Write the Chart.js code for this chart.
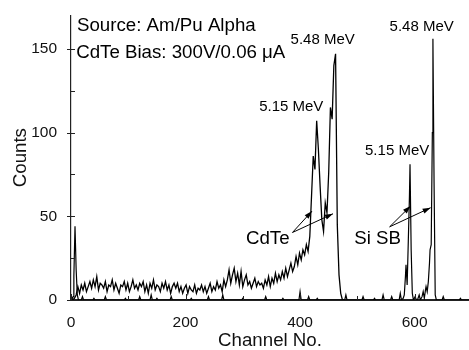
<!DOCTYPE html>
<html><head><meta charset="utf-8">
<script src="https://cdn.jsdelivr.net/npm/chart.js@4"></script>
<style>html,body{margin:0;padding:0;background:#fff}#wrap{width:469px;height:350px}</style>
</head><body><div id="wrap"><canvas id="c" width="469" height="350"></canvas></div>
<script>
// ---- data ----
const cdteStartChannel = 0;
const cdteChannelStep = 3;
const cdteCounts = [
  2, 0, 1, 3,
  8, 4, 9, 6, 10, 5, 8, 11, 7, 12, 8, 14, 6, 10, 9, 7, 11,
  5, 9, 8, 12, 6, 10, 7, 4, 9, 8, 11, 6, 10, 5, 8, 12, 7, 9, 6, 10,
  8, 11, 5, 9, 4, 10, 7, 12, 6, 9, 8, 5, 10, 7, 11, 6, 9, 4, 8, 10,
  7, 10, 5, 8, 4, 7, 9, 4, 8, 6, 5, 9, 4, 7, 6, 9, 5, 8, 4, 7,
  10, 5, 8, 6, 11, 7, 9, 5, 12, 8,
  12, 18, 10, 15, 19, 11, 16, 9, 17, 8,
  12, 15, 9, 11, 7, 10, 13, 8, 11, 9,
  10, 7, 12, 9, 14, 8, 13, 10, 16, 11,
  15, 12, 17, 13, 19, 14, 18, 22, 17, 20,
  26, 21, 28, 24, 30, 27, 33, 29, 38, 62,
  86, 78, 107, 90, 68, 48, 41, 58, 52, 76, 115, 108, 140, 147, 45, 15, 4, 0, 0
];
const siChannels = [
  0, 2, 4, 5, 7, 9, 11, 13,
  18, 20, 22, 38, 40, 42, 58, 60, 62, 93, 95, 97, 118, 120, 122,
  138, 140, 142, 148, 150, 152, 173, 175, 177, 208, 210, 212,
  238, 240, 242, 263, 265, 267, 298, 300, 302, 338, 340, 342,
  368, 370, 372, 398, 400, 402, 413, 415, 417, 428, 430, 432,
  478, 480, 482, 508, 510, 512, 528, 530, 532, 543, 545, 547,
  558, 560, 562, 573, 575, 577,
  580, 582, 584, 585, 587, 589, 591, 592, 594, 596, 598,
  601, 603, 605, 608, 610, 613, 615, 617, 619, 620, 622, 624, 626, 627, 629, 631, 632, 634, 636, 638,
  648, 650, 652, 678, 680, 682, 695
];
const siCounts = [
  3, 1, 2, 14, 44, 18, 3, 0,
  0, 2, 0, 0, 1, 0, 0, 2, 0, 0, 1, 0, 0, 2, 0,
  0, 3, 0, 0, 1, 0, 0, 2, 0, 0, 1, 0,
  0, 2, 0, 0, 3, 0, 0, 1, 0, 0, 2, 0,
  0, 1, 0, 0, 5, 0, 0, 2, 0, 0, 1, 0,
  0, 3, 0, 0, 2, 0, 0, 1, 0, 0, 3, 0,
  0, 2, 0, 0, 4, 0,
  1, 3, 14, 21, 9, 35, 62, 81, 30, 4, 0,
  2, 0, 0, 3, 0, 2, 5, 1, 6, 8, 5, 11, 22, 30, 33, 100, 156, 70, 3, 0,
  0, 2, 0, 0, 1, 0, 0
];
const xTickValues = [0, 200, 400, 600];
const xMinorTickValues = [100, 300, 500];
const yTickValues = [0, 50, 100, 150];
const yMinorTickValues = [25, 75, 125];

const infoLines = ['Source: Am/Pu Alpha', 'CdTe Bias: 300V/0.06 \u03bcA'];
const infoChannels = [10.5, 9];
const infoCounts = [163.5, 147.6];

const peakLabels = ['5.48 MeV', '5.15 MeV', '5.15 MeV', '5.48 MeV'];
const peakLabelChannels = [439.5, 384.6, 569.5, 612.3];
const peakLabelCounts = [155.3, 115.1, 89.1, 162.9];

const detectorLabels = ['CdTe', 'Si SB'];
const detectorLabelChannels = [343.6, 535.5];
const detectorLabelCounts = [36.6, 36.6];

const arrowFromChannels = [386.7, 386.7, 556.4, 556.4];
const arrowFromCounts = [40.3, 40.3, 43.7, 43.7];
const arrowToChannels = [420.9, 457.5, 593, 628];
const arrowToCounts = [53.1, 51.5, 56.1, 55.1];

// ---- build ----
const cdtePoints = cdteCounts.map((v, i) => ({x: cdteStartChannel + i * cdteChannelStep, y: v}));
const siPoints = siChannels.map((c, i) => ({x: c, y: siCounts[i]}));

const FONT = '"Liberation Sans", Arial, Helvetica, sans-serif';

function arrow(ctx, x1, y1, x2, y2) {
  ctx.beginPath(); ctx.moveTo(x1, y1); ctx.lineTo(x2, y2); ctx.stroke();
  const a = Math.atan2(y2 - y1, x2 - x1), L = 8, W = 2.6;
  ctx.beginPath();
  ctx.moveTo(x2, y2);
  ctx.lineTo(x2 - L * Math.cos(a) + W * Math.sin(a), y2 - L * Math.sin(a) - W * Math.cos(a));
  ctx.lineTo(x2 - L * Math.cos(a) - W * Math.sin(a), y2 - L * Math.sin(a) + W * Math.cos(a));
  ctx.closePath(); ctx.fill();
}

const overlay = {
  id: 'overlay',
  afterDraw(chart) {
    const {ctx, chartArea: ca} = chart;
    const x = chart.scales.x, y = chart.scales.y;
    ctx.save();
    ctx.strokeStyle = '#222'; ctx.fillStyle = '#000'; ctx.lineWidth = 1;
    const seg = (a, b, c, d) => { ctx.beginPath(); ctx.moveTo(a, b); ctx.lineTo(c, d); ctx.stroke(); };
    yTickValues.forEach(v => { const p = Math.round(y.getPixelForValue(v)) + 0.5; seg(ca.left - 4, p, ca.left + 4, p); });
    yMinorTickValues.forEach(v => { const p = Math.round(y.getPixelForValue(v)) + 0.5; seg(ca.left, p, ca.left + 4, p); });
    xTickValues.forEach(v => { const p = Math.round(x.getPixelForValue(v)) + 0.5; seg(p, ca.bottom, p, ca.bottom - 6); });
    xMinorTickValues.forEach(v => { const p = Math.round(x.getPixelForValue(v)) + 0.5; seg(p, ca.bottom, p, ca.bottom - 4); });

    ctx.textBaseline = 'middle';
    ctx.font = '18.7px ' + FONT;
    ctx.textAlign = 'left';
    infoLines.forEach((t, i) => ctx.fillText(t, x.getPixelForValue(infoChannels[i]), y.getPixelForValue(infoCounts[i])));
    ctx.textAlign = 'center';
    detectorLabels.forEach((t, i) => ctx.fillText(t, x.getPixelForValue(detectorLabelChannels[i]), y.getPixelForValue(detectorLabelCounts[i])));
    ctx.font = '15px ' + FONT;
    peakLabels.forEach((t, i) => ctx.fillText(t, x.getPixelForValue(peakLabelChannels[i]), y.getPixelForValue(peakLabelCounts[i])));

    ctx.strokeStyle = '#000'; ctx.lineWidth = 1;
    arrowFromChannels.forEach((c, i) => arrow(ctx,
      x.getPixelForValue(c), y.getPixelForValue(arrowFromCounts[i]),
      x.getPixelForValue(arrowToChannels[i]), y.getPixelForValue(arrowToCounts[i])));
    ctx.restore();
  }
};

new Chart(document.getElementById('c'), {
  type: 'line',
  data: {
    datasets: [
      {label: 'Si SB', data: siPoints, borderColor: '#000', borderWidth: 1.2, pointRadius: 0, tension: 0, fill: false},
      {label: 'CdTe', data: cdtePoints, borderColor: '#000', borderWidth: 1.3, pointRadius: 0, tension: 0, fill: false}
    ]
  },
  options: {
    responsive: false,
    animation: false,
    devicePixelRatio: 1,
    layout: {padding: {top: 12, left: 0, right: 0, bottom: 0}},
    plugins: {legend: {display: false}, tooltip: {enabled: false}},
    scales: {
      x: {
        type: 'linear', min: 0, max: 695,
        afterBuildTicks: s => { s.ticks = xTickValues.map(v => ({value: v})); },
        afterFit: s => { s.height = 50; },
        grid: {display: false},
        border: {display: true, color: '#222', width: 2},
        ticks: {color: '#111', padding: 5, font: {family: FONT, size: 15.5}, maxRotation: 0},
        title: {display: true, text: 'Channel No.', color: '#111', font: {family: FONT, size: 18.7, lineHeight: 1}, padding: {top: 0, bottom: 0}}
      },
      y: {
        type: 'linear', min: 0, max: 170,
        afterBuildTicks: s => { s.ticks = yTickValues.map(v => ({value: v})); },
        afterFit: s => { s.width = 71; },
        grid: {display: false},
        border: {display: true, color: '#222', width: 1.2},
        ticks: {color: '#111', padding: 6, font: {family: FONT, size: 15.5}},
        title: {display: true, text: 'Counts', color: '#111', font: {family: FONT, size: 18.7, lineHeight: 1}, padding: {top: 12, bottom: 0}}
      }
    }
  },
  plugins: [overlay]
});
</script>
</body></html>
